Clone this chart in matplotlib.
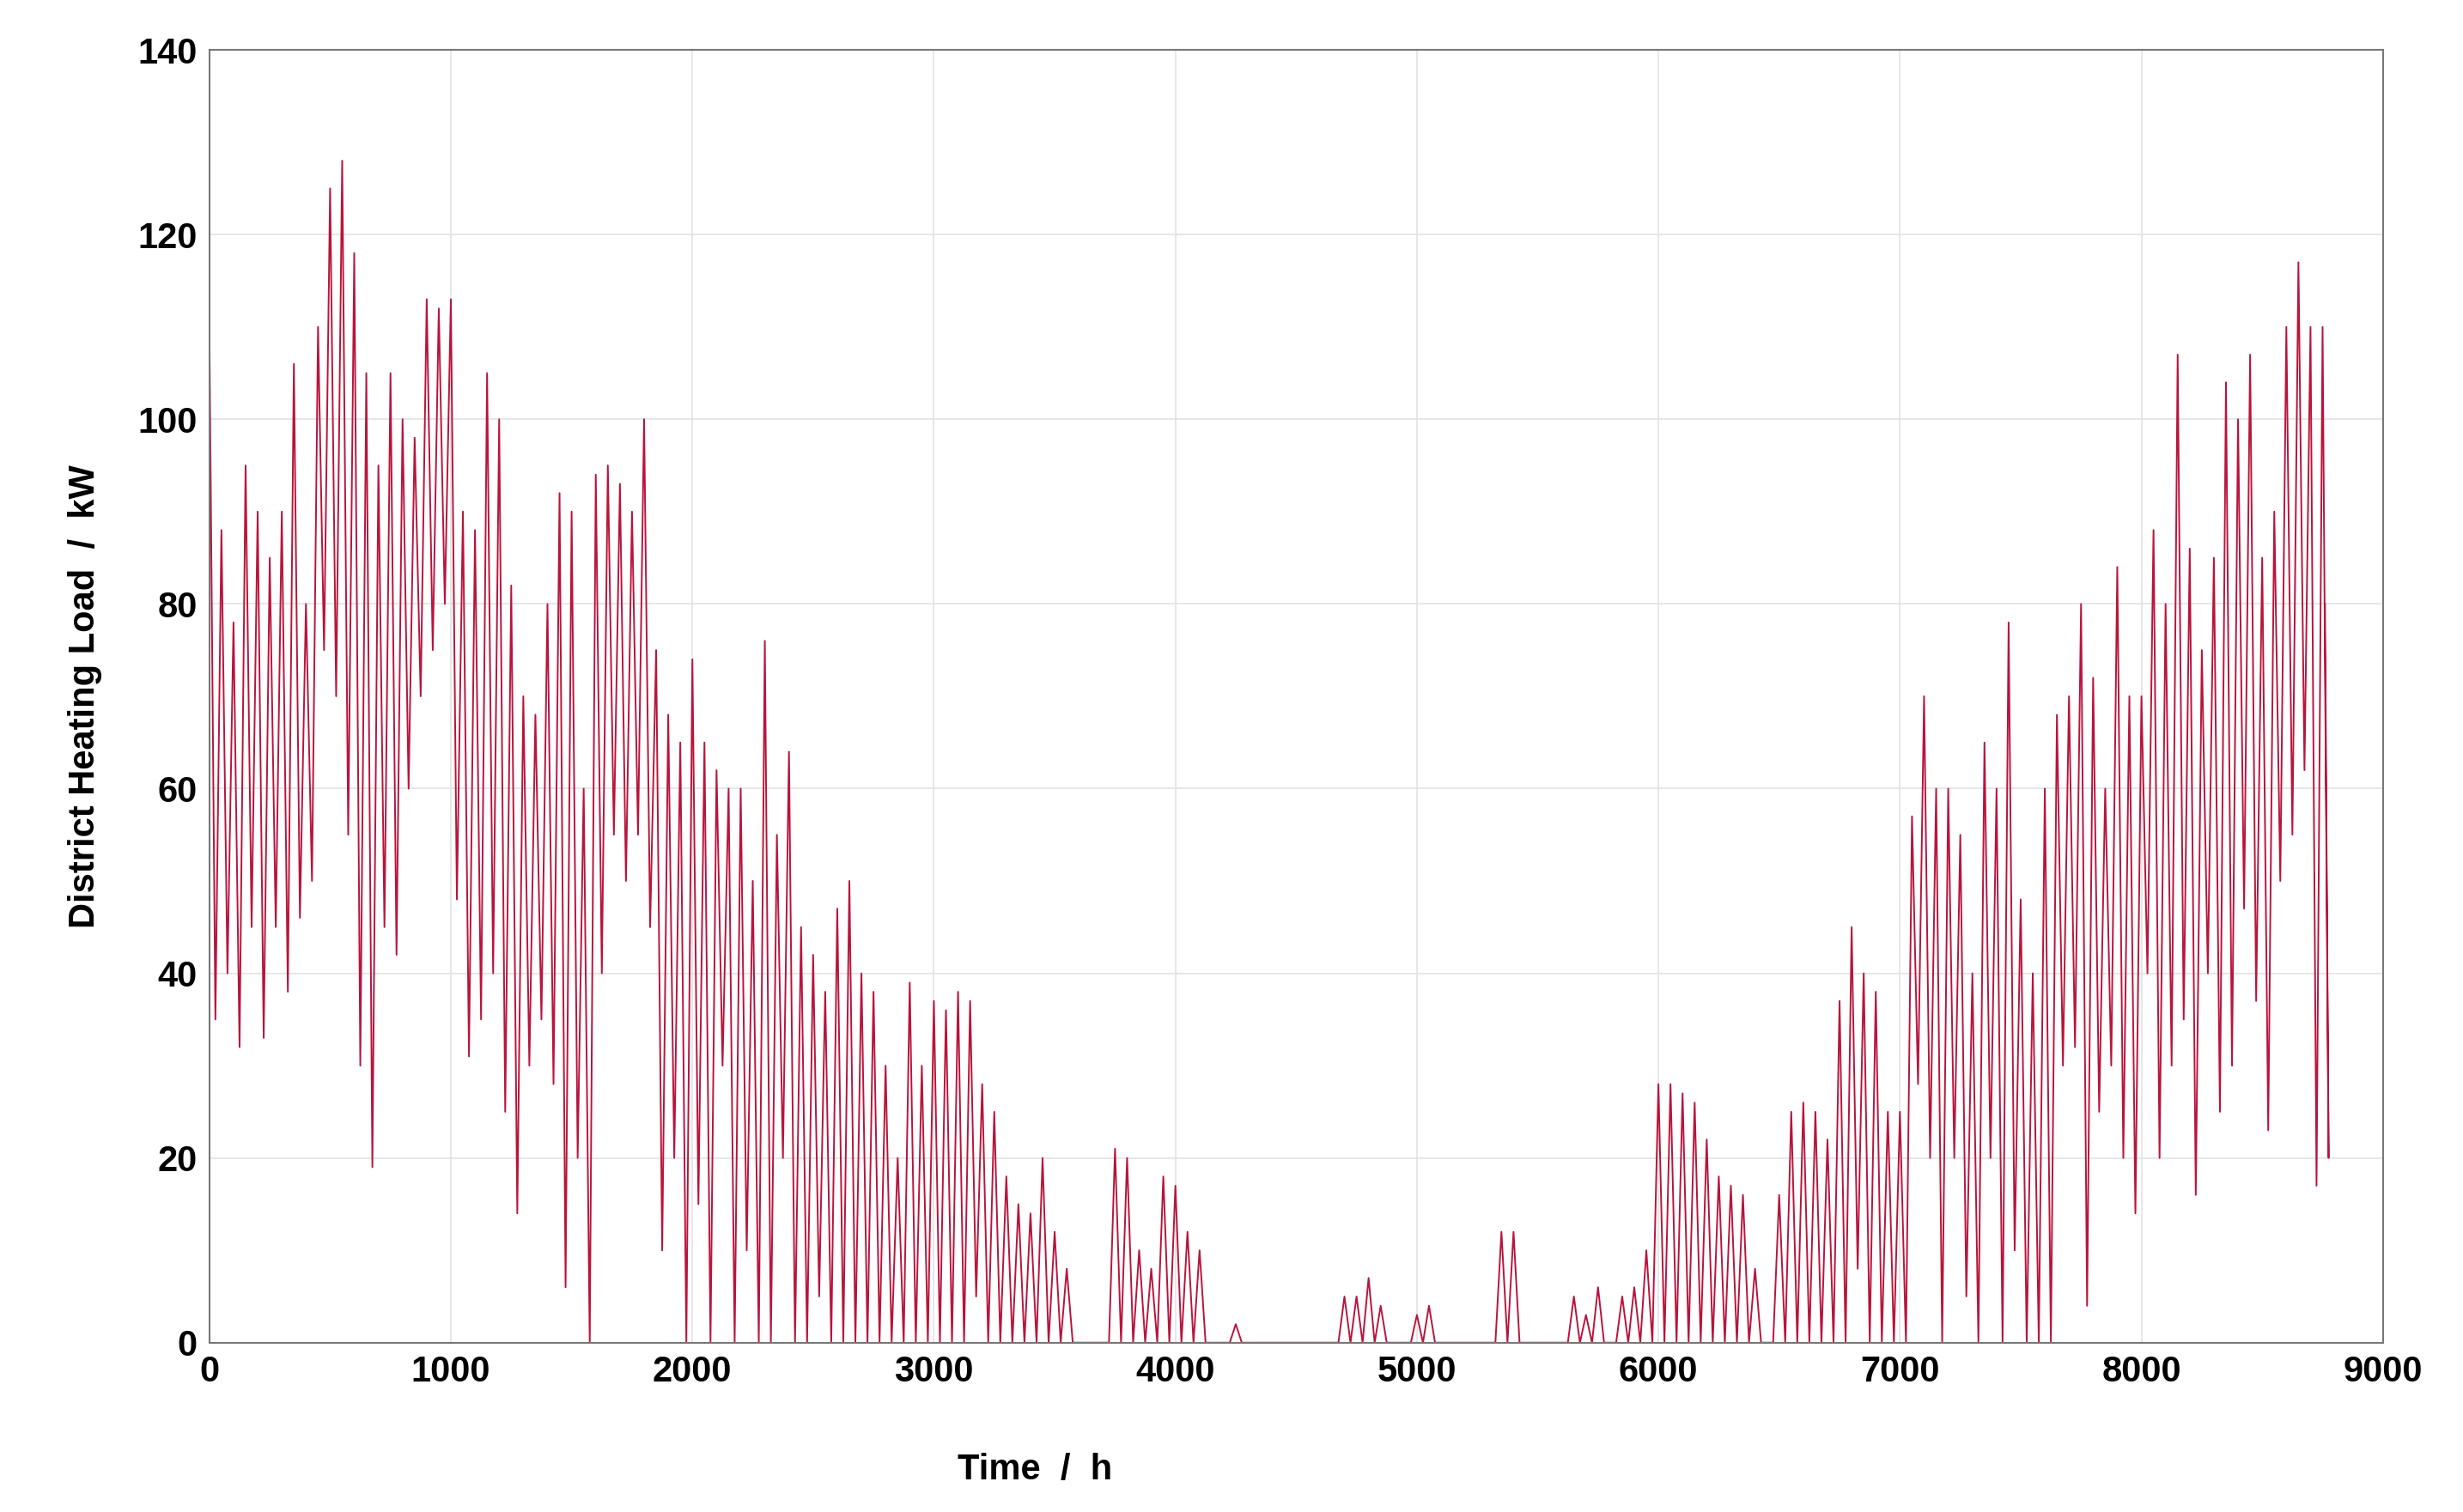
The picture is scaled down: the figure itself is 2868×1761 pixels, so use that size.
import matplotlib
matplotlib.use("Agg")
import matplotlib.pyplot as plt
import numpy as np

plt.rcParams['font.family'] = ['Liberation Sans', 'DejaVu Sans']

block_hours = 50
peaks = [110,88,78,95,90,85,90,106,80,110,125,128,118,105,95,105,100,98,113,112,
         113,90,88,105,100,82,70,68,80,92,90,60,94,95,93,90,100,75,68,65,
         74,65,62,60,60,50,76,55,64,45,42,38,47,50,40,38,30,20,39,30,
         37,36,38,37,28,25,18,15,14,20,12,8,0,0,0,21,20,10,8,18,
         17,12,10,0,0,2,0,0,0,0,0,0,0,0,5,5,7,4,0,0,
         3,4,0,0,0,0,0,12,12,0,0,0,0,5,3,6,0,5,6,10,
         28,28,27,26,22,18,17,16,8,0,16,25,26,25,22,37,45,40,38,25,
         25,57,70,60,60,55,40,65,60,78,48,40,60,68,70,80,72,60,84,70,
         70,88,80,107,86,75,85,104,100,107,85,90,110,117,110,110]
troughs = [35,40,32,45,33,45,38,46,50,75,70,55,30,19,45,42,60,70,75,80,
           48,31,35,40,25,14,30,35,28,6,20,0,40,55,50,55,45,10,20,0,
           15,0,30,0,10,0,0,20,0,0,5,0,0,0,0,0,0,0,0,0,
           0,0,0,5,0,0,0,0,0,0,0,0,0,0,0,0,0,0,0,0,
           0,0,0,0,0,0,0,0,0,0,0,0,0,0,0,0,0,0,0,0,
           0,0,0,0,0,0,0,0,0,0,0,0,0,0,0,0,0,0,0,0,
           0,0,0,0,0,0,0,0,0,0,0,0,0,0,0,0,8,0,0,0,
           0,28,20,0,20,5,0,20,0,10,0,0,0,30,32,4,25,30,20,14,
           40,20,30,35,16,40,25,30,47,37,23,50,55,62,17,20]
end_hour = 8760
end_value = 80

t, v = [], []
for i, (p, q) in enumerate(zip(peaks, troughs)):
    t += [i * block_hours, i * block_hours + block_hours / 2]
    v += [p, q]
t.append(end_hour); v.append(end_value)

fig = plt.figure(figsize=(28.68, 17.61), dpi=100)
ax = fig.add_axes([0.085, 0.112, 0.8825, 0.855])
ax.plot(t, v, color="#b8143c", lw=1.4)
ax.set_xlim(0, 9000); ax.set_ylim(0, 140)
ax.set_xticks(range(0, 9001, 1000)); ax.set_yticks(range(0, 141, 20))
ax.grid(True, color="#e3e3e3", lw=1.2)
for s in ax.spines.values():
    s.set_color("#777777"); s.set_linewidth(1.5)
ax.tick_params(labelsize=30, length=0, pad=10)
for lab in ax.get_xticklabels() + ax.get_yticklabels():
    lab.set_fontweight("bold")
ax.set_xlabel("Time  /  h", fontsize=30, fontweight="bold", labelpad=40)
ax.xaxis.set_label_coords(0.38, -0.085)
ax.set_ylabel("District Heating Load  /  kW", fontsize=30, fontweight="bold", labelpad=30)
fig.savefig("out.png", dpi=100, facecolor="white")
